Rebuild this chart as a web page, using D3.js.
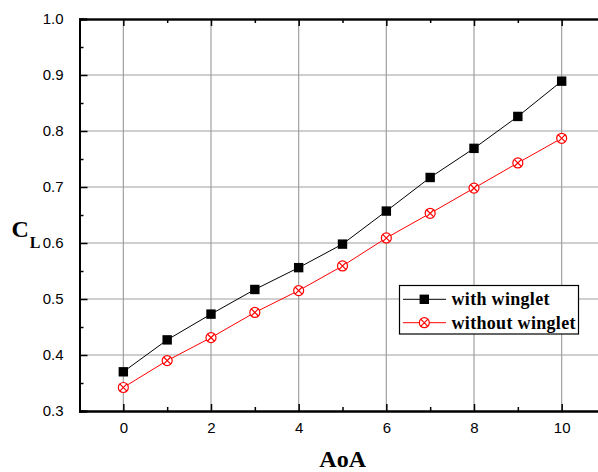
<!DOCTYPE html>
<html><head><meta charset="utf-8">
<script src="https://cdn.jsdelivr.net/npm/d3@7"></script>
<style>body{margin:0;background:#fff;}svg{display:block;}</style>
</head><body>
<script>
const aoa = [0,1,2,3,4,5,6,7,8,9,10];
const withWinglet = [0.370,0.427,0.473,0.517,0.556,0.598,0.657,0.717,0.769,0.826,0.889];
const withoutWinglet = [0.342,0.390,0.431,0.476,0.515,0.559,0.609,0.653,0.698,0.743,0.787];
const xTicks = [0,2,4,6,8,10];
const xMinor = [-1,1,3,5,7,9];
const yTicks = [0.3,0.4,0.5,0.6,0.7,0.8,0.9,1.0];
const yMinor = [0.35,0.45,0.55,0.65,0.75,0.85,0.95];
const seriesNames = ["with winglet","without winglet"];

(function(){
const W=598,H=472;
const svg=d3.select("body").append("svg").attr("width",W).attr("height",H);
const x=d3.scaleLinear().domain([-1,11]).range([79.5,605.5]);
const y=d3.scaleLinear().domain([0.3,1.0]).range([411,19]);

// grid
svg.append("g").selectAll("line").data(xTicks).join("line")
  .attr("x1",d=>x(d)).attr("x2",d=>x(d)).attr("y1",y(0.3)).attr("y2",y(1.0))
  .attr("stroke","#a0a0a0").attr("stroke-width",1.2);
svg.append("g").selectAll("line").data(yTicks.slice(1,-1)).join("line")
  .attr("y1",d=>y(d)).attr("y2",d=>y(d)).attr("x1",x(-1)).attr("x2",x(11))
  .attr("stroke","#a0a0a0").attr("stroke-width",1.2);

// axes
const fnt="'Liberation Sans',Arial,sans-serif";
const gBottom=svg.append("g").attr("transform",`translate(0,${y(0.3)})`)
  .call(d3.axisBottom(x).tickValues(xTicks).tickSize(-7).tickPadding(11).tickFormat(d3.format("d")));
const gBottomMinor=svg.append("g").attr("transform",`translate(0,${y(0.3)})`)
  .call(d3.axisBottom(x).tickValues(xMinor).tickSize(-4).tickFormat(""));
const gTop=svg.append("g").attr("transform",`translate(0,${y(1.0)})`)
  .call(d3.axisTop(x).tickValues(xTicks).tickSize(-7).tickFormat(""));
const gTopMinor=svg.append("g").attr("transform",`translate(0,${y(1.0)})`)
  .call(d3.axisTop(x).tickValues(xMinor).tickSize(-4).tickFormat(""));
const gLeft=svg.append("g").attr("transform",`translate(${x(-1)},0)`)
  .call(d3.axisLeft(y).tickValues(yTicks).tickSize(-8).tickPadding(16).tickFormat(d3.format(".1f")));
const gLeftMinor=svg.append("g").attr("transform",`translate(${x(-1)},0)`)
  .call(d3.axisLeft(y).tickValues(yMinor).tickSize(-4).tickFormat(""));
[gBottom,gBottomMinor,gTop,gTopMinor,gLeft,gLeftMinor].forEach(g=>{
  g.select(".domain").attr("stroke","#000").attr("stroke-width",2);
  g.selectAll(".tick line").attr("stroke","#000").attr("stroke-width",1.5);
  g.selectAll("text").attr("font-family",fnt).attr("font-size",15).attr("fill","#000");
});
gTop.select(".domain").attr("stroke","#333");

// lines
const line=d3.line().x((d,i)=>x(aoa[i])).y(d=>y(d));
svg.append("path").datum(withWinglet).attr("d",line).attr("fill","none").attr("stroke","#000").attr("stroke-width",1);
svg.append("path").datum(withoutWinglet).attr("d",line).attr("fill","none").attr("stroke","#ff0000").attr("stroke-width",1);

function square(g,cx,cy){
  g.append("rect").attr("x",cx-4.7).attr("y",cy-4.7).attr("width",9.4).attr("height",9.4).attr("fill","#000");
}
function circX(g,cx,cy){
  const r=5;
  g.append("circle").attr("cx",cx).attr("cy",cy).attr("r",r).attr("fill","#fff").attr("stroke","#ff0000").attr("stroke-width",1.2);
  const k=r*0.72;
  g.append("path").attr("d",`M${cx-k},${cy-k}L${cx+k},${cy+k}M${cx-k},${cy+k}L${cx+k},${cy-k}`)
   .attr("stroke","#ff0000").attr("stroke-width",1.2);
}
const m1=svg.append("g"), m2=svg.append("g");
withWinglet.forEach((v,i)=>square(m1,x(aoa[i]),y(v)));
withoutWinglet.forEach((v,i)=>circX(m2,x(aoa[i]),y(v)));

// legend
const lg=svg.append("g");
lg.append("rect").attr("x",399.5).attr("y",285.5).attr("width",179).attr("height",48.5)
  .attr("fill","#fff").attr("stroke","#000").attr("stroke-width",1.2);
const ly=[299.3,322.7];
lg.append("line").attr("x1",403).attr("x2",446).attr("y1",ly[0]).attr("y2",ly[0]).attr("stroke","#000");
square(lg,424.3,ly[0]);
lg.append("line").attr("x1",403).attr("x2",446).attr("y1",ly[1]).attr("y2",ly[1]).attr("stroke","#ff0000");
circX(lg,424.3,ly[1]);
seriesNames.forEach((n,i)=>{
  lg.append("text").attr("x",451.5).attr("y",ly[i]+6).text(n)
    .attr("font-family","'Liberation Serif','Times New Roman',serif").attr("font-weight","bold")
    .attr("font-size",18).attr("textLength",i?124:98).attr("fill","#000");
});

// axis titles
svg.append("text").attr("x",342.7).attr("y",467).attr("text-anchor","middle")
  .attr("font-family","'Liberation Serif','Times New Roman',serif").attr("font-weight","bold").attr("font-size",24).text("AoA");
const cl=svg.append("text").attr("x",11.5).attr("y",236.7)
  .attr("font-family","'Liberation Serif','Times New Roman',serif").attr("font-weight","bold");
cl.append("tspan").attr("font-size",24).text("C");
cl.append("tspan").attr("font-size",16).attr("dy",11).attr("dx",1).text("L");
})();
</script>
</body></html>
